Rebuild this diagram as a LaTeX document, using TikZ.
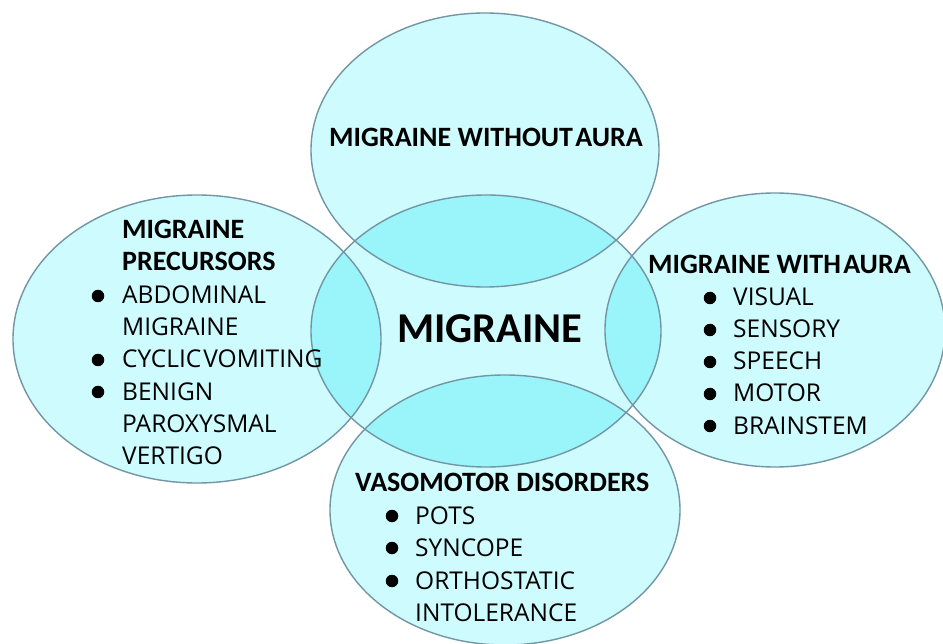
\documentclass[tikz,border=0pt]{standalone}
\usepackage{fontspec}
\setmainfont{Carlito}
\newfontfamily\regfont{Open Sans}
\definecolor{lightfill}{RGB}{206,251,253}
\definecolor{lensfill}{RGB}{153,245,249}
\definecolor{rim}{RGB}{115,150,165}
\tikzset{
  rimline/.style={draw=rim, line width=1.4pt},
  title/.style={anchor=base west, inner sep=0pt, font=\fontsize{28}{32}\selectfont\bfseries},
  item/.style={anchor=base west, inner sep=0pt, font=\regfont\fontsize{24.5}{28}\selectfont},
  dot/.style={circle, fill=black, inner sep=0pt, minimum size=12.5pt},
}
\newcommand{\tsp}{\hspace{0.08em}}
\begin{document}
\begin{tikzpicture}[x=1pt,y=-1pt]
\useasboundingbox[fill=white] (0,0) rectangle (943,644);
% ellipse fills
\def\Etop{(485,150) ellipse [x radius=174pt, y radius=137pt]}
\def\Ecen{(486,331) ellipse [x radius=175pt, y radius=136pt]}
\def\Eleft{(197,339) ellipse [x radius=184pt, y radius=144pt]}
\def\Eright{(775,330) ellipse [x radius=170pt, y radius=137pt]}
\def\Ebot{(505,510) ellipse [x radius=175pt, y radius=135pt]}
\fill[lightfill] \Etop;
\fill[lightfill] \Ecen;
\fill[lightfill] \Eleft;
\fill[lightfill] \Eright;
\fill[lightfill] \Ebot;
\begin{scope}
  \clip \Ecen;
  \fill[lensfill] \Etop;
  \fill[lensfill] \Eleft;
  \fill[lensfill] \Eright;
  \fill[lensfill] \Ebot;
\end{scope}
\draw[rimline] \Etop;
\draw[rimline] \Ecen;
\draw[rimline] \Eleft;
\draw[rimline] \Eright;
\draw[rimline] \Ebot;
% top
\node[title] (t1) at (329,147) {MIGRAINE WITHOUT\tsp AURA};
% centre
\node[anchor=base west, inner sep=0pt, font=\fontsize{42.5}{46}\selectfont\bfseries] (c) at (397,343) {MIGRAINE};
% left
\node[title] (l1) at (122,239) {MIGRAINE};
\node[title] (l2) at (122,271) {PRECURSORS};
\node[item] (l3) at (122,304) {ABDOMINAL};
\node[item] (l4) at (122,336) {MIGRAINE};
\node[item] (l5) at (122,368) {CYCLIC\tsp VOMITING};
\node[item] (l6) at (122,400) {BENIGN};
\node[item] (l7) at (122,432) {PAROXYSMAL};
\node[item] (l8) at (122,464) {VERTIGO};
\node[dot] (ld1) at (98,296) {};
\node[dot] (ld2) at (98,360) {};
\node[dot] (ld3) at (98,392) {};
% right
\node[title] (r1) at (648,274) {MIGRAINE WITH\tsp AURA};
\node[item] (r2) at (733,306) {VISUAL};
\node[item] (r3) at (733,338) {SENSORY};
\node[item] (r4) at (733,370) {SPEECH};
\node[item] (r5) at (733,402) {MOTOR};
\node[item] (r6) at (733,434) {BRAINSTEM};
\node[dot] (rd1) at (710,298) {};
\node[dot] (rd2) at (710,330) {};
\node[dot] (rd3) at (710,362) {};
\node[dot] (rd4) at (710,394) {};
\node[dot] (rd5) at (710,426) {};
% bottom
\node[title] (b1) at (355,491) {VASOMOTOR DISORDERS};
\node[item] (b2) at (415,524) {POTS};
\node[item] (b3) at (415,556) {SYNCOPE};
\node[item] (b4) at (415,589) {ORTHOSTATIC};
\node[item] (b5) at (415,621) {INTOLERANCE};
\node[dot] (bd1) at (392,516) {};
\node[dot] (bd2) at (392,548) {};
\node[dot] (bd3) at (392,581) {};
\end{tikzpicture}
\end{document}
